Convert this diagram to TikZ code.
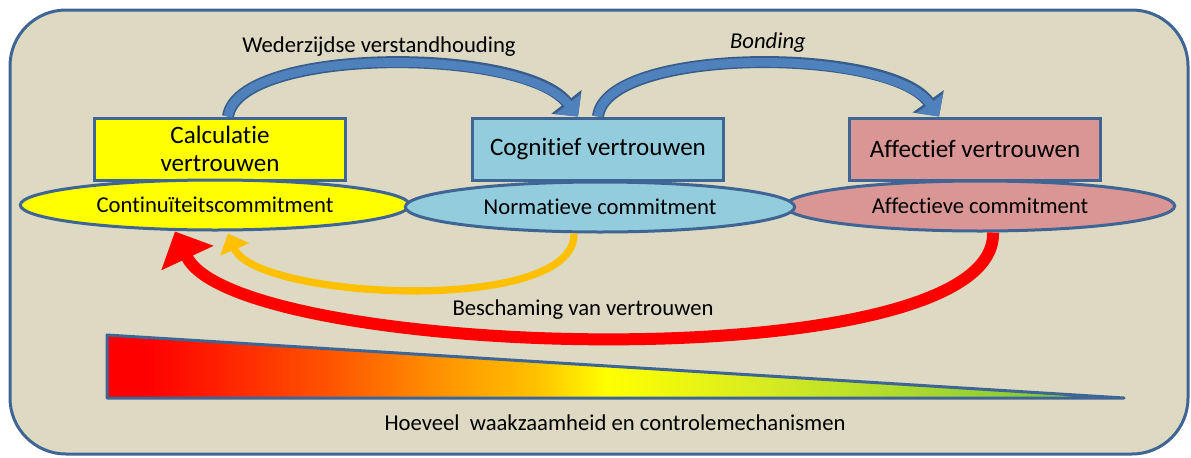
\documentclass[tikz,border=0pt]{standalone}
\usepackage{fontspec}
\setmainfont{Carlito}[Ligatures=NoCommon]
\usetikzlibrary{arrows.meta,calc,shapes.geometric}

\definecolor{panel}{HTML}{DDD9C3}
\definecolor{edgeblue}{HTML}{3F6594}
\definecolor{calcyellow}{HTML}{FFFF00}
\definecolor{cognblue}{HTML}{93CDDD}
\definecolor{affpink}{HTML}{D99694}
\definecolor{bondblue}{HTML}{4F81BD}
\definecolor{bondedge}{HTML}{385D8A}
\definecolor{backorange}{HTML}{FFC000}
\definecolor{shamered}{HTML}{FF0000}
\definecolor{heatA}{HTML}{FF5500}
\definecolor{heatB}{HTML}{FF9900}
\definecolor{heatC}{HTML}{FFC000}
\definecolor{heatD}{HTML}{D8EC20}
\definecolor{heatE}{HTML}{78C440}

\pgfdeclarehorizontalshading{heat}{100bp}{color(0bp)=(shamered); color(27bp)=(shamered);
  color(36bp)=(heatA); color(42bp)=(heatB); color(46bp)=(heatC); color(49.6bp)=(calcyellow);
  color(57bp)=(heatD); color(73bp)=(heatE); color(100bp)=(heatE)}

\tikzset{
  trustbox/.style={draw=edgeblue, line width=2.25pt, minimum width=188pt, minimum height=46.5pt,
    align=center, inner sep=2pt, font=\fontsize{18.8}{21.5}\selectfont},
  commitell/.style={ellipse, draw=edgeblue, line width=2.25pt, minimum width=292pt,
    minimum height=37.5pt, inner sep=1pt, font=\fontsize{17}{20}\selectfont},
  caption/.style={inner sep=0pt, font=\fontsize{17}{20}\selectfont},
  bondarrow/.style={bondblue, line width=6.5pt, -{Triangle[length=12pt,width=24pt]},
    preaction={draw=bondedge, line width=9pt, -{Triangle[length=14pt,width=28pt]}}},
  backarrow/.style={backorange, line width=5.5pt, -{Triangle[length=13pt,width=23pt]}},
  shamearrow/.style={shamered, line width=9pt, -{Triangle[length=22pt,width=42pt]}}
}

\begin{document}
\begin{tikzpicture}[x=0.75pt,y=-0.75pt]
\useasboundingbox (0,0) rectangle (1191,457);
\draw[edgeblue, line width=2.25pt, fill=panel, rounded corners=42pt] (10,10) rectangle (1188,454);

% vertrouwen
\node[trustbox, fill=calcyellow] (calcbox) at (220,149) {Calculatie\\vertrouwen};
\node[trustbox, fill=cognblue] (cognbox) at (598,149) {Cognitief vertrouwen};
\node[trustbox, fill=affpink] (affbox) at (975,149) {Affectief vertrouwen};

% commitment
\node[commitell, fill=calcyellow] (contell) at (215,205) {Continuïteitscommitment};
\node[commitell, fill=affpink] (affell) at (980,206) {Affectieve commitment};
\node[commitell, fill=cognblue] (normell) at (600,207) {Normatieve commitment};

\node[caption] (mutual) at (379,47) {Wederzijdse verstandhouding};
\node[caption, font=\fontsize{17}{20}\selectfont\itshape] (bond) at (768,43) {Bonding};
\node[caption] (shame) at (583,310) {Beschaming van vertrouwen};
\node[caption] (vigil) at (615,423) {Hoeveel\ \ waakzaamheid en controlemechanismen};

\draw[bondarrow] ($(calcbox.north)+(8,0)$) .. controls +(10,-70) and +(-55,-70) .. ($(cognbox.north)+(-20,0)$);
\draw[bondarrow] (cognbox.north) .. controls +(8,-70) and +(-50,-70) .. ($(affbox.north)+(-36,0)$);
\draw[backarrow] ($(normell.south)+(-26,0)$) .. controls +(2,82) and +(28,66) .. ($(contell.south)+(13,2)$);
\draw[shamearrow] ($(affell.south)+(13,0)$) .. controls +(5,150) and +(60,128) .. ($(contell.south)+(-40,0)$);

% waakzaamheid
\shadedraw[shading=heat, draw=edgeblue, line width=2.25pt, line join=round] (107,335) -- (1124,398) -- (107,398) -- cycle;
\end{tikzpicture}
\end{document}
